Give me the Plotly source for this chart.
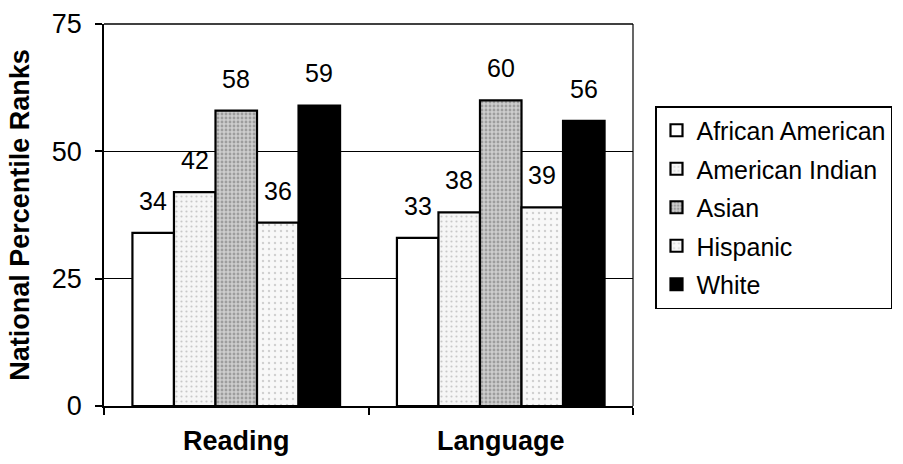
import plotly.graph_objects as go

# Test subjects and ethnic groups
subjects = ["Reading", "Language"]
groups = ["African American", "American Indian", "Asian", "Hispanic", "White"]

# National percentile ranks per group, ordered as in `subjects`
african_american = [34, 33]
american_indian = [42, 38]
asian = [58, 60]
hispanic = [36, 39]
white = [59, 56]

series = [african_american, american_indian, asian, hispanic, white]
y_ticks = [0, 25, 50, 75]

# Halftone-like fills for each group
styles = [
    dict(color="white", pattern=None),
    dict(color="#f6f6f6", pattern=dict(shape=".", fgcolor="#9a9a9a", size=5, solidity=0.15)),
    dict(color="#cdcdcd", pattern=dict(shape=".", fgcolor="#6e6e6e", size=4, solidity=0.4)),
    dict(color="#f8f8f8", pattern=dict(shape=".", fgcolor="#a8a8a8", size=6, solidity=0.12)),
    dict(color="black", pattern=None),
]

font = "Liberation Sans, Arial, sans-serif"
bargap = 0.215

fig = go.Figure()
for name, vals, st in zip(groups, series, styles):
    marker = dict(color=st["color"], line=dict(color="black", width=2.2))
    if st["pattern"]:
        marker["pattern"] = st["pattern"]
    fig.add_trace(go.Bar(name=name, x=subjects, y=vals, marker=marker,
                         legendgroup=name))

# Value labels sit a little above each bar; horizontal offset follows the
# grouped-bar layout (category index + slot offset inside the group)
n = len(groups)
slot = (1 - bargap) / n
for gi, vals in enumerate(series):
    for si, v in enumerate(vals):
        fig.add_annotation(
            x=si + (gi - (n - 1) / 2) * slot, y=v, text=str(v),
            showarrow=False, yanchor="bottom", yshift=16,
            font=dict(family=font, size=25, color="black"),
        )

fig.update_layout(
    width=903, height=464,
    margin=dict(l=104, r=270, t=24, b=58, autoexpand=False),
    paper_bgcolor="white", plot_bgcolor="white",
    barmode="group", bargap=bargap, bargroupgap=0,
    font=dict(family=font, size=25, color="black"),
    showlegend=True,
    legend=dict(
        x=(655 - 104) / 529, y=(406 - 106) / 382, xanchor="left", yanchor="top",
        bordercolor="black", borderwidth=1.5,
        font=dict(family=font, size=25, color="black"),
        itemwidth=30, tracegroupgap=3, bgcolor="white",
    ),
)

fig.update_yaxes(
    range=[0, 75], tickvals=y_ticks, ticks="outside", ticklen=7, automargin=False,
    tickcolor="black", tickwidth=1.5, showline=True, linecolor="black", linewidth=1.5,
    showgrid=True, gridcolor="black", gridwidth=1, zeroline=False,
    tickfont=dict(family=font, size=27), ticklabelstandoff=8,
    title=dict(text="<b>National Percentile Ranks</b>",
               font=dict(family=font, size=27), standoff=14),
)
fig.update_xaxes(
    tickson="boundaries", ticks="outside", ticklen=7, tickcolor="black", tickwidth=1.5,
    showline=True, linecolor="black", linewidth=1.5, automargin=False,
    tickfont=dict(family=font, size=27), ticklabelstandoff=10,
    ticktext=["<b>Reading</b>", "<b>Language</b>"], tickvals=subjects,
)

# Top and right frame of the plotting area
fig.add_shape(type="line", xref="paper", yref="paper", x0=0, x1=1, y0=1, y1=1,
              line=dict(color="black", width=1.5))
fig.add_shape(type="line", xref="paper", yref="paper", x0=1, x1=1, y0=0, y1=1,
              line=dict(color="black", width=1.2))

fig.write_html("out.html")
